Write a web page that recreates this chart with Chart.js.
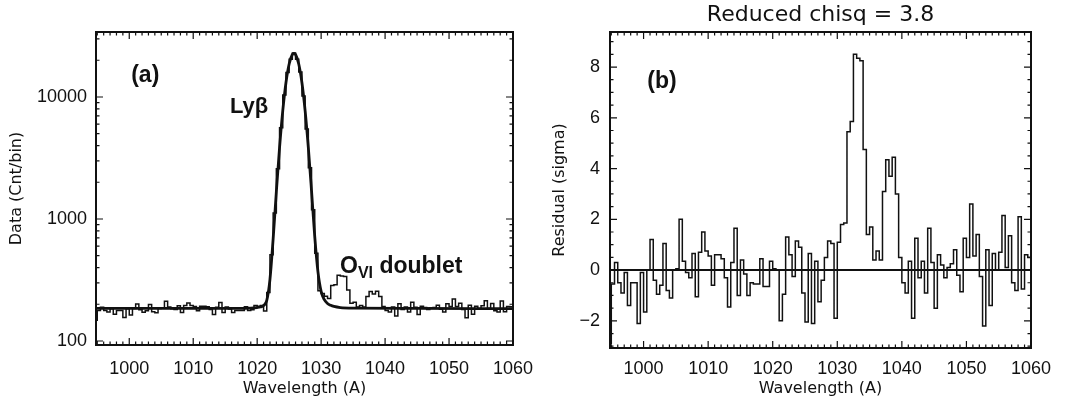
<!DOCTYPE html>
<html lang="en">
<head>
<meta charset="UTF-8">
<title>Ly beta fit and residuals</title>
<script src="https://cdn.jsdelivr.net/npm/chart.js"></script>
<style>
  body { margin: 0; background: #fff; }
  .wrap { position: relative; width: 1076px; height: 403px; overflow: hidden; background: #fff; }
  canvas { position: absolute; top: 0; }
  #fitChart { left: 0; }
  #residChart { left: 540px; }
</style>
</head>
<body>
<div class="wrap">
  <canvas id="fitChart" width="560" height="403"></canvas>
  <canvas id="residChart" width="536" height="403"></canvas>
</div>
<script>
// spectrum binned in 0.5 A steps, first bin edge at 995 A
const binStart = 995;
const binWidth = 0.5;
const xMin = 994.8, xMax = 1060;
const xTickLabels = [1000, 1010, 1020, 1030, 1040, 1050, 1060];
const countTickLabels = [100, 1000, 10000];
const residTickLabels = [-2, 0, 2, 4, 6, 8];

// panel (a): observed counts per bin
const leadCounts = 148;
const counts = [
  178, 189, 178, 173, 184, 166, 178, 178, 156, 184,
  163, 185, 201, 180, 172, 177, 199, 174, 170, 185,
  186, 212, 190, 184, 181, 194, 171, 195, 205, 195,
  192, 177, 193, 193, 191, 181, 165, 189, 207, 171,
  190, 183, 171, 178, 178, 178, 191, 178, 180, 195,
  193, 195, 176, 250, 508, 1120, 2587, 5585, 10390, 15886,
  20405, 22900, 20400, 16045, 10173, 5470, 2625, 1190, 523, 258,
  245, 233, 223, 285, 289, 346, 341, 338, 262, 204,
  208, 190, 195, 190, 232, 254, 243, 256, 231, 192,
  178, 173, 190, 160, 202, 181, 190, 173, 208, 189,
  165, 193, 188, 181, 186, 188, 196, 182, 173, 202,
  192, 221, 192, 204, 181, 155, 196, 166, 193, 184,
  194, 214, 185, 203, 177, 173, 213, 174, 192, 191
];

// panel (a): fitted Ly-beta model
const modelWave = [994.8, 1000, 1010, 1017, 1019, 1020, 1020.5, 1021, 1021.5, 1022,
  1022.5, 1023, 1023.5, 1024, 1024.5, 1025, 1025.5, 1025.75, 1026, 1026.5,
  1027, 1027.5, 1028, 1028.5, 1029, 1029.5, 1030, 1030.5, 1031, 1031.5,
  1032, 1033, 1035, 1045, 1060];
const modelCounts = [185, 185, 185, 185, 186, 188, 190, 195, 215, 320,
  690, 1680, 3850, 7700, 13100, 18650, 22300, 22800, 22300, 18650,
  13100, 7700, 3850, 1700, 720, 370, 255, 218, 203, 196,
  192, 188, 186, 185, 184];

// panel (b): residuals in sigma
const leadResid = -2.9;
const resid = [
  -0.55, 0.3, -0.5, -0.9, -0.1, -1.4, -0.5, -0.5, -2.1, -0.1,
  -1.65, 0, 1.2, -0.4, -0.95, -0.6, 1.05, -0.8, -1.1, 0,
  0.05, 2.0, 0.35, -0.1, -0.3, 0.65, -1.05, 0.7, 1.5, 0.75,
  0.55, -0.6, 0.6, 0.6, 0.45, -0.3, -1.45, 0.3, 1.65, -1.0,
  0.4, -0.15, -1.0, -0.5, -0.55, -0.55, 0.45, -0.65, -0.65, 0.35,
  0.05, 0, -2.0, -0.95, 1.3, 0.6, -0.25, 1.15, 0.9, -0.9,
  -2.05, 0.65, -2.1, 0.35, -1.25, -0.4, 0.5, 1.15, 1.05, -1.9,
  1.1, 1.8, 1.85, 5.45, 5.85, 8.5, 8.35, 8.25, 4.75, 1.4,
  1.7, 0.4, 0.75, 0.4, 3.1, 4.35, 3.7, 4.45, 3.0, 0.5,
  -0.5, -0.9, 0.35, -1.9, 1.25, -0.3, 0.35, -0.9, 1.65, 0.3,
  -1.5, 0.6, 0.2, -0.3, 0.1, 0.25, 0.8, -0.2, -0.85, 1.25,
  0.5, 2.6, 0.55, 1.4, -0.25, -2.2, 0.8, -1.4, 0.65, 0.0,
  0.7, 2.15, 0.1, 1.35, -0.5, -0.8, 2.1, -0.75, 0.6, 0.5
];
const zeroWave = [xMin, xMax];
const zeroLevel = [0, 0];

const ink = '#111';
const tickFont = { family: '"Liberation Sans", Arial, sans-serif', size: 18 };
const labelFont = { family: '"DejaVu Sans", sans-serif', size: 16 };
const noteFamily = '"Liberation Sans", Arial, sans-serif';

// step histogram points from bin values (left edges + closing edge)
function histPoints(lead, vals) {
  const pts = [{ x: xMin, y: lead }];
  vals.forEach((v, i) => pts.push({ x: binStart + i * binWidth, y: v }));
  pts.push({ x: binStart + vals.length * binWidth, y: vals[vals.length - 1] });
  return pts;
}

// minor tick positions
const xMinor = [];
for (let v = 995; v <= 1060; v++) if (v % 10 !== 0) xMinor.push(v);
const countMinor = [];
[100, 1000, 10000].forEach(d => { for (let m = 2; m <= 9; m++) if (d * m < 34000) countMinor.push(d * m); });
const residMinor = [];
for (let v = -3; v <= 9; v += 0.5) if (v % 2 !== 0) residMinor.push(v);

// IDL style box: frame, inward ticks on all four sides, text notes
const boxTicks = {
  id: 'boxTicks',
  afterDatasetsDraw(chart, args, o) {
    const { ctx, chartArea: a } = chart;
    const x = chart.scales.x, y = chart.scales.y;
    ctx.save();
    ctx.strokeStyle = ink;
    ctx.lineWidth = 2;
    ctx.strokeRect(a.left, a.top, a.right - a.left, a.bottom - a.top);
    ctx.lineWidth = 1.2;
    ctx.beginPath();
    const xt = (v, len) => {
      const p = x.getPixelForValue(v);
      ctx.moveTo(p, a.bottom); ctx.lineTo(p, a.bottom - len);
      ctx.moveTo(p, a.top); ctx.lineTo(p, a.top + len);
    };
    const yt = (v, len) => {
      const p = y.getPixelForValue(v);
      ctx.moveTo(a.left, p); ctx.lineTo(a.left + len, p);
      ctx.moveTo(a.right, p); ctx.lineTo(a.right - len, p);
    };
    o.xMajor.forEach(v => xt(v, 7));
    o.xMinor.forEach(v => xt(v, 3.5));
    o.yMajor.forEach(v => yt(v, 7));
    o.yMinor.forEach(v => yt(v, 3.5));
    ctx.stroke();

    ctx.fillStyle = ink;
    ctx.textBaseline = 'alphabetic';
    o.notes.forEach(n => {
      let px = x.getPixelForValue(n.x);
      const py = y.getPixelForValue(n.y);
      if (n.align === 'center') {
        let w = 0;
        n.parts.forEach(p => { ctx.font = p.font; w += ctx.measureText(p.text).width; });
        px -= w / 2;
      }
      ctx.textAlign = 'left';
      n.parts.forEach(p => {
        ctx.font = p.font;
        ctx.fillText(p.text, px, py + (p.dy || 0));
        px += ctx.measureText(p.text).width;
      });
    });
    ctx.restore();
  }
};

const setXTicks = s => { s.ticks = xTickLabels.map(v => ({ value: v })); };
const noGrid = { display: false, drawTicks: false, tickLength: 0 };

// (a) data and model
new Chart(document.getElementById('fitChart'), {
  type: 'line',
  data: {
    datasets: [
      { data: histPoints(leadCounts, counts), stepped: 'before', borderColor: ink, borderWidth: 1.5, pointRadius: 0 },
      { data: modelWave.map((w, i) => ({ x: w, y: modelCounts[i] })), borderColor: ink, borderWidth: 2.8,
        pointRadius: 0, cubicInterpolationMode: 'monotone' }
    ]
  },
  options: {
    responsive: false,
    animation: false,
    events: [],
    layout: { padding: { top: 32, right: 47, left: 0, bottom: 0 } },
    plugins: {
      legend: { display: false },
      tooltip: { enabled: false },
      boxTicks: {
        xMajor: xTickLabels, xMinor: xMinor, yMajor: countTickLabels, yMinor: countMinor,
        notes: [
          { x: 1002.5, y: 13300, align: 'center', parts: [{ text: '(a)', font: 'bold 23px ' + noteFamily }] },
          { x: 1015.75, y: 7350, parts: [{ text: 'Ly\u03b2', font: 'bold 22px ' + noteFamily }] },
          { x: 1032.95, y: 359, parts: [
            { text: 'O', font: 'bold 23px ' + noteFamily },
            { text: 'VI', font: 'bold 16px ' + noteFamily, dy: 5 },
            { text: ' doublet', font: 'bold 23px ' + noteFamily }
          ] }
        ]
      }
    },
    scales: {
      x: {
        type: 'linear', min: xMin, max: xMax,
        afterBuildTicks: setXTicks,
        afterFit: s => { s.height = 58; },
        grid: noGrid, border: { display: false },
        ticks: { font: tickFont, color: ink, padding: 13, maxRotation: 0, autoSkip: false, callback: v => String(v) },
        title: { display: true, text: 'Wavelength (A)', font: labelFont, color: ink, padding: { top: 0, bottom: 4.4 } }
      },
      y: {
        type: 'logarithmic', min: 92.7, max: 34100,
        afterBuildTicks: s => { s.ticks = countTickLabels.map(v => ({ value: v })); },
        afterFit: s => { s.width = 96; },
        grid: noGrid, border: { display: false },
        ticks: { font: tickFont, color: ink, padding: 9, autoSkip: false, callback: v => String(v) },
        title: { display: true, text: 'Data (Cnt/bin)', font: labelFont, color: ink, padding: { top: 7.4, bottom: 0 } }
      }
    }
  },
  plugins: [boxTicks]
});

// (b) residuals
new Chart(document.getElementById('residChart'), {
  type: 'line',
  data: {
    datasets: [
      { data: zeroWave.map((w, i) => ({ x: w, y: zeroLevel[i] })), borderColor: ink, borderWidth: 2, pointRadius: 0 },
      { data: histPoints(leadResid, resid), stepped: 'before', borderColor: ink, borderWidth: 1.5, pointRadius: 0 }
    ]
  },
  options: {
    responsive: false,
    animation: false,
    events: [],
    layout: { padding: { top: 0, right: 45, left: 0, bottom: 0 } },
    plugins: {
      legend: { display: false },
      tooltip: { enabled: false },
      title: {
        display: true, text: 'Reduced chisq = 3.8', fullSize: false, color: ink,
        font: { family: '"DejaVu Sans", sans-serif', size: 22, weight: 'normal', lineHeight: 1.2 },
        padding: { top: 2, bottom: 3.6 }
      },
      boxTicks: {
        xMajor: xTickLabels, xMinor: xMinor, yMajor: residTickLabels, yMinor: residMinor,
        notes: [
          { x: 1002.85, y: 7.17, align: 'center', parts: [{ text: '(b)', font: 'bold 23px ' + noteFamily }] }
        ]
      }
    },
    scales: {
      x: {
        type: 'linear', min: xMin, max: xMax,
        afterBuildTicks: setXTicks,
        afterFit: s => { s.height = 55; },
        grid: noGrid, border: { display: false },
        ticks: { font: tickFont, color: ink, padding: 10, maxRotation: 0, autoSkip: false, callback: v => String(v) },
        title: { display: true, text: 'Wavelength (A)', font: labelFont, color: ink, padding: { top: 0, bottom: 4.4 } }
      },
      y: {
        type: 'linear', min: -3.07, max: 9.38,
        afterBuildTicks: s => { s.ticks = residTickLabels.map(v => ({ value: v })); },
        afterFit: s => { s.width = 70; },
        grid: noGrid, border: { display: false },
        ticks: { font: tickFont, color: ink, padding: 10, autoSkip: false,
                 callback: v => (v < 0 ? '\u2212' + Math.abs(v) : String(v)) },
        title: { display: true, text: 'Residual (sigma)', font: labelFont, color: ink, padding: { top: 10.4, bottom: 0 } }
      }
    }
  },
  plugins: [boxTicks]
});
</script>
</body>
</html>
